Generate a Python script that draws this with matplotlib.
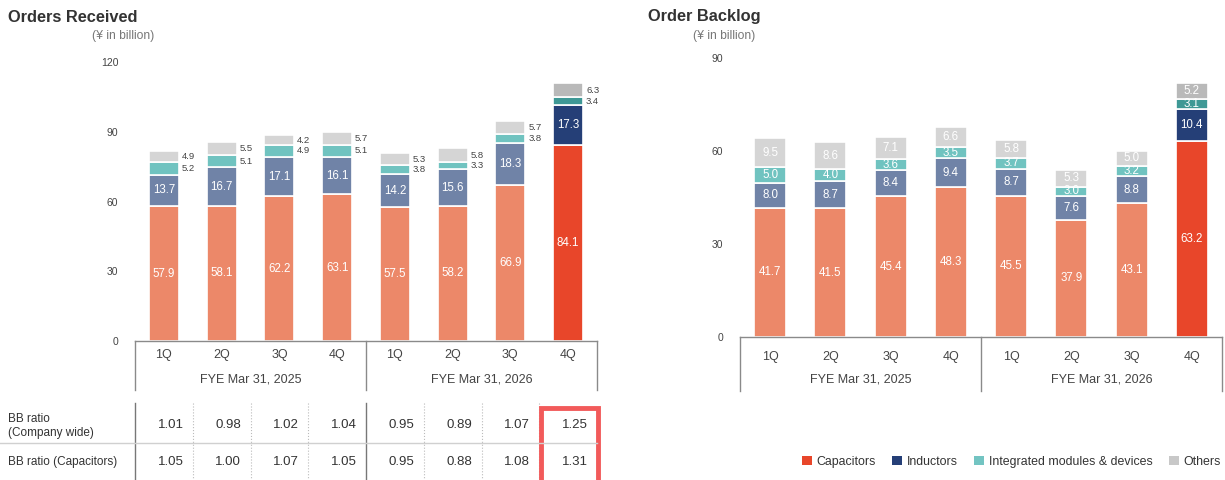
import matplotlib
matplotlib.use("Agg")
import matplotlib.pyplot as plt
from matplotlib.patches import Patch, Rectangle
from matplotlib.transforms import blended_transform_factory

plt.rcParams['font.family'] = ['Liberation Sans', 'DejaVu Sans']

quarters = ['1Q', '2Q', '3Q', '4Q', '1Q', '2Q', '3Q', '4Q']
years = ['FYE Mar 31, 2025', 'FYE Mar 31, 2026']
segments = ['Capacitors', 'Inductors', 'Integrated modules & devices', 'Others']

# orders received, ¥ billion
ord_cap = [57.9, 58.1, 62.2, 63.1, 57.5, 58.2, 66.9, 84.1]
ord_ind = [13.7, 16.7, 17.1, 16.1, 14.2, 15.6, 18.3, 17.3]
ord_mod = [5.2, 5.1, 4.9, 5.1, 3.8, 3.3, 3.8, 3.4]
ord_oth = [4.9, 5.5, 4.2, 5.7, 5.3, 5.8, 5.7, 6.3]

# order backlog, ¥ billion
bl_cap = [41.7, 41.5, 45.4, 48.3, 45.5, 37.9, 43.1, 63.2]
bl_ind = [8.0, 8.7, 8.4, 9.4, 8.7, 7.6, 8.8, 10.4]
bl_mod = [5.0, 4.0, 3.6, 3.5, 3.7, 3.0, 3.2, 3.1]
bl_oth = [9.5, 8.6, 7.1, 6.6, 5.8, 5.3, 5.0, 5.2]

bb_labels = ['BB ratio\n(Company wide)', 'BB ratio (Capacitors)']
bb_company = ['1.01', '0.98', '1.02', '1.04', '0.95', '0.89', '1.07', '1.25']
bb_capacitors = ['1.05', '1.00', '1.07', '1.05', '0.95', '0.88', '1.08', '1.31']

col_light = ['#ec8869', '#7083a7', '#70c3c0', '#d5d5d5']
col_dark = ['#e8462a', '#253f77', '#3e9895', '#b9b9b9']
legend_col = ['#e8462a', '#253f77', '#73c4c2', '#c8c8c8']

W, H = 1225, 480
fig = plt.figure(figsize=(W / 100, H / 100), dpi=100)


def fy(y):
    return 1 - y / H


def stacked(ax, series, width, outside_small):
    x = range(len(quarters))
    bottom = [0.0] * len(quarters)
    for s, vals in enumerate(series):
        colors = [col_dark[s] if i == len(quarters) - 1 else col_light[s] for i in x]
        ax.bar(x, vals, width, bottom=bottom, color=colors, edgecolor='white', linewidth=1.2)
        for i, v in enumerate(vals):
            yc = bottom[i] + v / 2
            if outside_small and s >= 2:
                ax.text(i + width / 2 + 0.05, yc, f'{v:.1f}', ha='left', va='center',
                        fontsize=6.8, color='#444444')
            else:
                ax.text(i, yc, f'{v:.1f}', ha='center', va='center', fontsize=8.3, color='white')
        bottom = [b + v for b, v in zip(bottom, vals)]


def frame(ax, ymax, step, qy, fyey, line_bottom):
    ax.set_xlim(-0.5, 7.5)
    ax.set_ylim(0, ymax)
    ax.set_yticks(range(0, ymax + 1, step))
    for sp in ['top', 'right', 'left']:
        ax.spines[sp].set_visible(False)
    ax.spines['bottom'].set_color('#8a8a8a')
    ax.spines['bottom'].set_linewidth(1.0)
    ax.tick_params(axis='y', length=0, pad=12, labelsize=7.5, labelcolor='#444444')
    ax.set_xticks([])
    tr = blended_transform_factory(ax.transData, fig.transFigure)
    for i, q in enumerate(quarters):
        ax.text(i, fy(qy), q, transform=tr, ha='center', va='center', fontsize=9, color='#444444')
    for k, label in enumerate(years):
        ax.text(1.5 + 4 * k, fy(fyey), label, transform=tr, ha='center', va='center',
                fontsize=9, color='#444444')
    for xv in [-0.5, 3.5, 7.5]:
        ax.plot([xv, xv], [fy(line_bottom), ax.get_position().y0], transform=tr,
                color='#8a8a8a', lw=1.0, clip_on=False)


# Orders received
axL = fig.add_axes([135 / W, fy(341), 462 / W, 279 / H])
stacked(axL, [ord_cap, ord_ind, ord_mod, ord_oth], 0.52, True)
frame(axL, 120, 30, 355, 379, 390)

# Order backlog
axR = fig.add_axes([740 / W, fy(337), 482 / W, 279 / H])
stacked(axR, [bl_cap, bl_ind, bl_mod, bl_oth], 0.53, False)
frame(axR, 90, 30, 357, 380, 391)

fig.text(8 / W, fy(17), 'Orders Received', fontsize=11.8, fontweight='bold', color='#333333', va='center')
fig.text(648 / W, fy(17), 'Order Backlog', fontsize=11.8, fontweight='bold', color='#333333', va='center')
fig.text(92 / W, fy(36), '(¥ in billion)', fontsize=8.7, color='#777777', va='center')
fig.text(693 / W, fy(36), '(¥ in billion)', fontsize=8.7, color='#777777', va='center')

# BB ratio table under the orders chart
trL = blended_transform_factory(axL.transData, fig.transFigure)
for xv in [-0.5, 3.5]:
    axL.plot([xv, xv], [fy(403), 0], transform=trL, color='#777777', lw=1.0, clip_on=False)
for xv in [0.5, 1.5, 2.5, 4.5, 5.5, 6.5]:
    axL.plot([xv, xv], [fy(403), 0], transform=trL, color='#bbbbbb', lw=0.8, ls=':', clip_on=False)
fig.add_artist(plt.Line2D([0, 597 / W], [fy(443), fy(443)], color='#d0d0d0', lw=1.0))

fig.text(8 / W, fy(426), bb_labels[0], fontsize=8.5, color='#333333', va='center', linespacing=1.2)
fig.text(8 / W, fy(462), bb_labels[1], fontsize=8.5, color='#333333', va='center')
for i in range(len(quarters)):
    axL.text(i + 0.34, fy(425), bb_company[i], transform=trL, ha='right', va='center',
             fontsize=9.5, color='#333333')
    axL.text(i + 0.34, fy(462), bb_capacitors[i], transform=trL, ha='right', va='center',
             fontsize=9.5, color='#333333')

box = Rectangle((6.53, fy(486)), 0.99, (486 - 408) / H, transform=trL, fill=False,
                edgecolor='#f25a5a', lw=3.5, clip_on=False)
fig.add_artist(box)

handles = [Patch(facecolor=c, edgecolor='none') for c in legend_col]
fig.legend(handles, segments, loc='center right', bbox_to_anchor=(1221 / W, fy(462)), ncol=4,
           frameon=False, fontsize=8.9, handlelength=0.8, handleheight=0.8,
           handletextpad=0.4, columnspacing=1.3, labelcolor='#333333', borderaxespad=0,
           borderpad=0)

fig.savefig('out.png', dpi=100, facecolor='white')
